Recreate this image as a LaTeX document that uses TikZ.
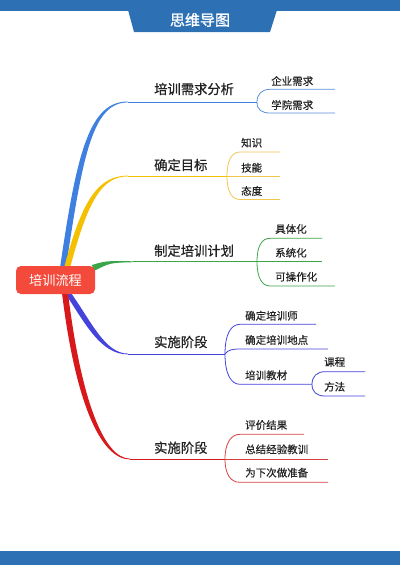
\documentclass[tikz,border=0pt]{standalone}
\usepackage{fontspec}
\setmainfont{Noto Sans CJK SC}
\newfontfamily\labfont{Noto Sans CJK SC}[FakeBold=0.6]
\newfontfamily\ttlfont{Noto Sans CJK SC}[FakeBold=1.2]
\definecolor{titleblue}{RGB}{46,112,180}
\definecolor{bblue}{RGB}{62,127,224}
\definecolor{bblue2}{RGB}{92,143,220}
\definecolor{byellow}{RGB}{245,192,0}
\definecolor{byellow2}{RGB}{240,198,80}
\definecolor{bgreen}{RGB}{59,165,74}
\definecolor{bindigo}{RGB}{68,68,221}
\definecolor{bred}{RGB}{216,25,28}
\definecolor{bred2}{RGB}{216,64,64}
\definecolor{rootred}{RGB}{244,74,60}
\definecolor{txt}{RGB}{34,34,34}
\tikzset{
  titletext/.style={text=white,font=\ttlfont\fontsize{15}{17}\selectfont,inner sep=0pt},
  rootbox/.style={fill=rootred,rounded corners=5pt,minimum width=79pt,minimum height=28pt,text=white,font=\fontsize{13.2}{15}\selectfont,inner sep=0pt},
  mainlbl/.style={anchor=west,text=txt,font=\labfont\fontsize{13.3}{15}\selectfont,inner sep=0pt},
  sublbl/.style={anchor=west,text=txt,font=\labfont\fontsize{10.5}{12}\selectfont,inner sep=0pt},
  mline/.style={line width=0.9pt},
  cline/.style={line width=0.8pt},
}
\begin{document}
\begin{tikzpicture}[x=1pt,y=-1pt]
\useasboundingbox (0,0) rectangle (400,565);
% header and footer
\fill[titleblue] (0,0) rectangle (400,11);
\fill[titleblue] (128,10) -- (277,10) -- (270,32) -- (134,32) -- cycle;
\node[titletext] (title) at (200,20) {思维导图};
\fill[titleblue] (0,551) rectangle (400,565);

% coordinates
\coordinate (j1) at (128,102);   \coordinate (k1) at (257,102);
\coordinate (j2) at (128,176);   \coordinate (k2) at (227,176);
\coordinate (j3) at (133,261.7); \coordinate (k3) at (257,261.7);
\coordinate (j4) at (128,354);   \coordinate (k4) at (225,354);
\coordinate (j5) at (130,459);   \coordinate (k5) at (225,459);

% ---- branch 1 (blue)
\fill[bblue] (60,268) .. controls (77,150) and (90,101.5) .. (128,101.5) -- (128,102.4) .. controls (94,102.4) and (83,150) .. (66,268) -- cycle;
\draw[bblue,mline] (j1) -- (k1);
\coordinate (c11) at (270,89.3); \coordinate (c12) at (270,113);
\coordinate (e11) at (335,89.3); \coordinate (e12) at (335,113);
\draw[bblue2,cline] (k1) .. controls +(0,-8) and +(-8,0) .. (c11) -- (e11);
\draw[bblue2,cline] (k1) .. controls +(0,8) and +(-8,0) .. (c12) -- (e12);
\node[mainlbl] (m1) at (154,89) {培训需求分析};
\node[sublbl] (s11) at (271,81) {企业需求};
\node[sublbl] (s12) at (271,105) {学院需求};

% ---- branch 2 (yellow)
\fill[byellow] (64,268) .. controls (82,200) and (98,175.6) .. (128,175.6) -- (128,176.4) .. controls (102,176.4) and (88,200) .. (70,268) -- cycle;
\draw[byellow,mline] (j2) -- (k2);
\coordinate (c21) at (240,152); \coordinate (c23) at (240,199.5);
\coordinate (e21) at (280,152); \coordinate (e22) at (280,176); \coordinate (e23) at (280,199.5);
\draw[byellow2,cline] (k2) .. controls +(0,-16) and +(-8,0) .. (c21) -- (e21);
\draw[byellow2,cline] (k2) -- (e22);
\draw[byellow2,cline] (k2) .. controls +(0,16) and +(-8,0) .. (c23) -- (e23);
\node[mainlbl] (m2) at (154,165) {确定目标};
\node[sublbl] (s21) at (241,142.7) {知识};
\node[sublbl] (s22) at (241,167.7) {技能};
\node[sublbl] (s23) at (241,191) {态度};

% ---- branch 3 (green)
\fill[bgreen] (92,265) .. controls (106,260.8) .. (133,261.3) -- (133,262.2) .. controls (110,262.8) .. (94,271) -- cycle;
\draw[bgreen,mline] (j3) -- (k3);
\coordinate (c31) at (270,238.3); \coordinate (c33) at (270,286);
\coordinate (e31) at (322,238.3); \coordinate (e32) at (322,261.7); \coordinate (e33) at (335,286);
\draw[bgreen,cline] (k3) .. controls +(0,-16) and +(-8,0) .. (c31) -- (e31);
\draw[bgreen,cline] (k3) -- (e32);
\draw[bgreen,cline] (k3) .. controls +(0,16) and +(-8,0) .. (c33) -- (e33);
\node[mainlbl] (m3) at (154,250.7) {制定培训计划};
\node[sublbl] (s31) at (275,229) {具体化};
\node[sublbl] (s32) at (275,252.7) {系统化};
\node[sublbl] (s33) at (275,276.7) {可操作化};

% ---- branch 4 (indigo)
\fill[bindigo] (65,293) .. controls (86,325) and (101,354.4) .. (128,354.4) -- (128,353.6) .. controls (105,353.6) and (91,321) .. (71,293) -- cycle;
\draw[bindigo,mline] (j4) -- (k4);
\coordinate (c41) at (240,324.3); \coordinate (c42) at (240,349); \coordinate (c43) at (240,384.3);
\coordinate (e41) at (316,324.3); \coordinate (e42) at (328,349); \coordinate (k43) at (312,384.3);
\draw[bindigo,cline] (k4) .. controls +(0,-20) and +(-9,0) .. (c41) -- (e41);
\draw[bindigo,cline] (k4) .. controls +(3,-4) and +(-8,0) .. (c42) -- (e42);
\draw[bindigo,cline] (k4) .. controls +(0,20) and +(-9,0) .. (c43) -- (k43);
\coordinate (c441) at (325,371.7); \coordinate (c442) at (325,396);
\coordinate (e441) at (365,371.7); \coordinate (e442) at (365,396);
\draw[bindigo,cline] (k43) .. controls +(0,-8) and +(-8,0) .. (c441) -- (e441);
\draw[bindigo,cline] (k43) .. controls +(0,8) and +(-8,0) .. (c442) -- (e442);
\node[mainlbl] (m4) at (154,342) {实施阶段};
\node[sublbl] (s41) at (245,315.7) {确定培训师};
\node[sublbl] (s42) at (245,340) {确定培训地点};
\node[sublbl] (s43) at (245,375.3) {培训教材};
\node[sublbl] (s431) at (324,362) {课程};
\node[sublbl] (s432) at (324,386.7) {方法};

% ---- branch 5 (red)
\fill[bred] (62,293) .. controls (75,400) and (100,459.4) .. (130,459.4) -- (130,458.6) .. controls (104,458.6) and (81,400) .. (68,293) -- cycle;
\draw[bred,mline] (j5) -- (k5);
\coordinate (c51) at (240,434.3); \coordinate (c53) at (240,482.3);
\coordinate (e51) at (304,434.3); \coordinate (e52) at (328,459); \coordinate (e53) at (328,482.3);
\draw[bred2,cline] (k5) .. controls +(0,-16) and +(-9,0) .. (c51) -- (e51);
\draw[bred2,cline] (k5) -- (e52);
\draw[bred2,cline] (k5) .. controls +(0,16) and +(-9,0) .. (c53) -- (e53);
\node[mainlbl] (m5) at (154,447.7) {实施阶段};
\node[sublbl] (s51) at (245,425) {评价结果};
\node[sublbl] (s52) at (245,449.3) {总结经验教训};
\node[sublbl] (s53) at (245,472.7) {为下次做准备};

% ---- root
\node[rootbox] (root) at (55.5,280) {培训流程};
\end{tikzpicture}
\end{document}
